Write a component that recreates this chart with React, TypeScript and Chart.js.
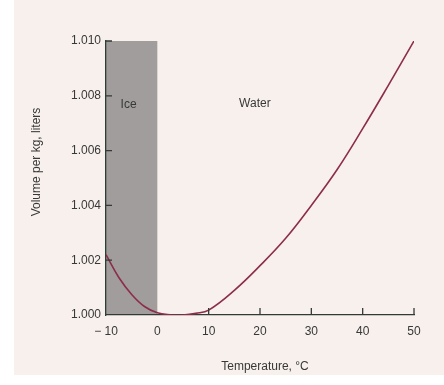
import React, { useEffect, useRef } from "react";
import { Chart, registerables } from "chart.js";

Chart.register(...registerables);

const temperatures = [-10, -7.5, -5, -2.5, 0, 2.5, 5, 7.5, 10, 15, 20, 25, 30, 35, 40, 45, 50];
const volumes = [1.0022, 1.00137, 1.00075, 1.00031, 1.00008, 1.00001, 1.0, 1.00006, 1.00018, 1.0009, 1.0018, 1.0028, 1.004, 1.0053, 1.0068, 1.00838, 1.01];
const iceRange = [-10, 0];
const xTicks = [-10, 0, 10, 20, 30, 40, 50];
const yTicks = [1.0, 1.002, 1.004, 1.006, 1.008, 1.01];
const innerXTicks = [10, 20, 30, 40, 50];
const innerYTicks = [1.002, 1.004, 1.006, 1.008, 1.01];
const xTitle = "Temperature, °C";
const yTitle = "Volume per kg, liters";
const regionLabels = [
  { text: "Ice", x: -5.6, y: 1.00767 },
  { text: "Water", x: 19, y: 1.0077 },
];

const FONT = "Liberation Sans, Arial, sans-serif";
const TEXT = "#383838";

const backgroundPlugin = {
  id: "bg",
  beforeDraw(chart: any) {
    const { ctx, width, height } = chart;
    ctx.save();
    ctx.fillStyle = "#ffffff";
    ctx.fillRect(0, 0, width, height);
    ctx.fillStyle = "#f7f0ed";
    ctx.fillRect(14, 0, width - 14, 375);
    const xs = chart.scales.x;
    const ys = chart.scales.y;
    const x0 = xs.getPixelForValue(iceRange[0]);
    const x1 = xs.getPixelForValue(iceRange[1]);
    const yTop = ys.getPixelForValue(ys.max);
    const yBot = ys.getPixelForValue(ys.min);
    ctx.fillStyle = "#a19d9c";
    ctx.fillRect(x0, yTop, x1 - x0, yBot - yTop);
    ctx.restore();
  },
};

const overlayPlugin = {
  id: "overlay",
  afterDraw(chart: any) {
    const { ctx } = chart;
    const xs = chart.scales.x;
    const ys = chart.scales.y;
    const left = xs.left;
    const bottom = ys.bottom;
    ctx.save();
    ctx.strokeStyle = "#333a36";
    ctx.lineWidth = 1.3;
    ctx.beginPath();
    innerXTicks.forEach((v) => {
      const px = xs.getPixelForValue(v);
      ctx.moveTo(px, bottom);
      ctx.lineTo(px, bottom - 7);
    });
    innerYTicks.forEach((v) => {
      const py = ys.getPixelForValue(v);
      ctx.moveTo(left, py);
      ctx.lineTo(left + 6, py);
    });
    ctx.stroke();

    ctx.fillStyle = TEXT;
    ctx.font = "12px " + FONT;
    ctx.textAlign = "center";
    ctx.textBaseline = "middle";
    regionLabels.forEach((l) => {
      ctx.fillText(l.text, xs.getPixelForValue(l.x), ys.getPixelForValue(l.y));
    });
    ctx.fillText(xTitle, 265, 367);
    ctx.translate(37, 162);
    ctx.rotate(-Math.PI / 2);
    ctx.fillText(yTitle, 0, 0);
    ctx.restore();
  },
};

export default function App() {
  const ref = useRef<HTMLCanvasElement | null>(null);
  useEffect(() => {
    document.body.style.margin = "0";
    const chart = new Chart(ref.current as HTMLCanvasElement, {
      type: "line",
      data: {
        datasets: [
          {
            data: temperatures.map((t, i) => ({ x: t, y: volumes[i] })),
            borderColor: "#8c2d4b",
            borderWidth: 1.6,
            pointRadius: 0,
            tension: 0.4,
            fill: false,
          },
        ],
      },
      options: {
        animation: false,
        responsive: false,
        maintainAspectRatio: false,
        layout: { padding: { top: 41, right: 30, left: 0, bottom: 0 } },
        plugins: { legend: { display: false }, tooltip: { enabled: false }, title: { display: false } },
        scales: {
          x: {
            type: "linear",
            min: -10,
            max: 50,
            afterFit: (s: any) => {
              s.height = 70;
            },
            afterBuildTicks: (s: any) => {
              s.ticks = xTicks.map((v) => ({ value: v }));
            },
            grid: { display: false, drawTicks: false },
            border: { display: true, color: "#333a36", width: 1.3 },
            ticks: {
              padding: 9,
              color: TEXT,
              font: { family: FONT, size: 12 },
              maxRotation: 0,
              autoSkip: false,
              callback: (v: any) => (v < 0 ? "− " + Math.abs(v) : String(v)),
            },
          },
          y: {
            type: "linear",
            min: 1.0,
            max: 1.01,
            afterFit: (s: any) => {
              s.width = 106;
            },
            afterBuildTicks: (s: any) => {
              s.ticks = yTicks.map((v) => ({ value: v }));
            },
            grid: { display: false, drawTicks: false },
            border: { display: true, color: "#2e3d35", width: 1.3 },
            ticks: {
              padding: 5,
              color: TEXT,
              font: { family: FONT, size: 12 },
              autoSkip: false,
              callback: (v: any) => Number(v).toFixed(3),
            },
          },
        },
      },
      plugins: [backgroundPlugin, overlayPlugin],
    } as any);
    return () => chart.destroy();
  }, []);
  return (
    <div style={{ width: 444, height: 385 }}>
      <canvas ref={ref} width={444} height={385} style={{ display: "block" }} />
    </div>
  );
}
